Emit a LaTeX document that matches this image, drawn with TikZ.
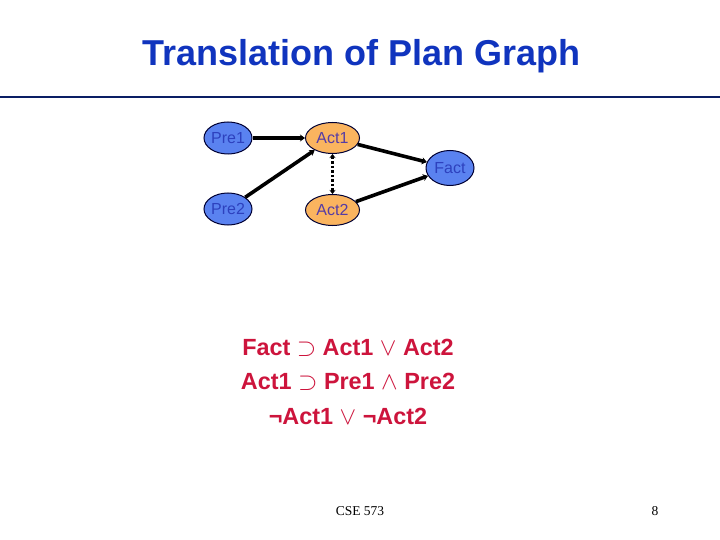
\documentclass[tikz,border=0pt]{standalone}
\usepackage{fontspec}
\setmainfont{Liberation Sans}
\newfontfamily\serifface{Liberation Serif}
\usetikzlibrary{shapes.geometric,arrows.meta}
\definecolor{titleblue}{RGB}{16,52,190}
\definecolor{rulenavy}{RGB}{10,30,100}
\definecolor{bluefill}{RGB}{90,130,240}
\definecolor{orangefill}{RGB}{250,180,95}
\definecolor{bluetext}{RGB}{45,65,190}
\definecolor{purpletext}{RGB}{85,60,165}
\definecolor{redtext}{RGB}{205,20,60}
\tikzset{
  x=1pt,y=-1pt,
  bluenode/.style={ellipse,draw=black!80!blue,line width=1pt,fill=bluefill,text=bluetext,font=\fontsize{16}{16}\selectfont,inner sep=0pt,minimum width=48pt,minimum height=32pt},
  actnode/.style={ellipse,draw=black!80!blue,line width=1pt,fill=orangefill,text=purpletext,font=\fontsize{16}{16}\selectfont,inner sep=0pt,minimum width=54pt,minimum height=31pt},
  link/.style={line width=3.6pt,-{Stealth[length=5pt,width=7pt]}},
  mutex/.style={line width=3.4pt,dash pattern=on 2.5pt off 2pt,{Stealth[length=4pt,width=6pt]}-{Stealth[length=4pt,width=6pt]}},
  formula/.style={text=redtext,font=\bfseries\fontsize{23.4}{23.4}\selectfont,anchor=base},
  footer/.style={font=\serifface\fontsize{13.5}{13.5}\selectfont,anchor=base}
}
\begin{document}
\begin{tikzpicture}
\useasboundingbox (0,0) rectangle (720,540);
\fill[white] (0,0) rectangle (720,540);
\node[text=titleblue,font=\bfseries\fontsize{36}{36}\selectfont,anchor=base] (title) at (361.5,66) {Translation of Plan Graph};
\coordinate (ruleL) at (0,97);
\coordinate (ruleR) at (720,97);
\draw[rulenavy,line width=1.5pt] (ruleL) -- (ruleR);
\node[bluenode] (pre1) at (228,138) {Pre1};
\node[bluenode] (pre2) at (228,209) {Pre2};
\node[actnode] (act1) at (332.5,138) {Act1};
\node[actnode] (act2) at (332.5,210) {Act2};
\node[bluenode,minimum height=35pt] (fact) at (450,168) {Fact};
\draw[link] (pre1) -- (act1);
\draw[link] (pre2) -- (act1);
\draw[link] (act1) -- (fact);
\draw[link] (act2) -- (fact);
\draw[mutex] (act1) -- (act2);
\node[formula] (f1) at (348,355) {Fact $\supset$ Act1 $\vee$ Act2};
\node[formula] (f2) at (348,389) {Act1 $\supset$ Pre1 $\wedge$ Pre2};
\node[formula] (f3) at (348,424) {¬Act1 $\vee$ ¬Act2};
\node[footer] (cse) at (360,515) {CSE 573};
\node[footer] (pg) at (655,515) {8};
\end{tikzpicture}
\end{document}
